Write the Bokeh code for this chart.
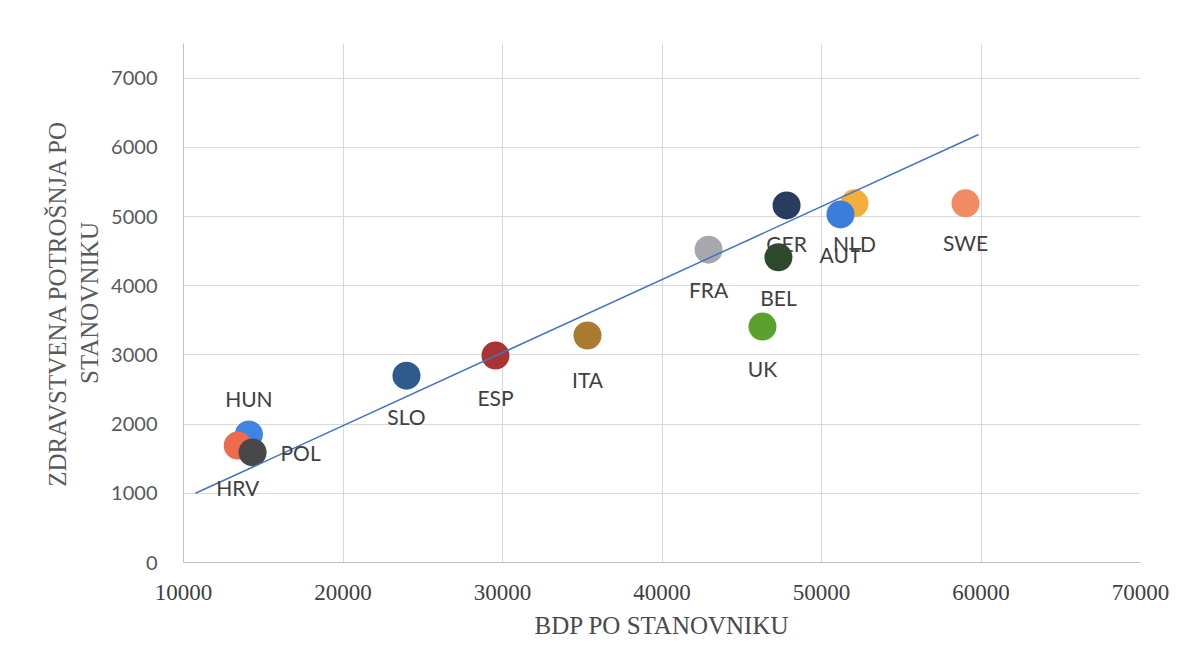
from bokeh.plotting import figure
from bokeh.models import ColumnDataSource, SingleIntervalTicker, Range1d
from bokeh.embed import file_html
from bokeh.resources import INLINE
from bokeh.core.properties import value

# ---- data ----
countries = ["HUN", "HRV", "POL", "SLO", "ESP", "ITA", "FRA", "GER", "NLD", "AUT", "BEL", "UK", "SWE"]
gdp_pc = [14100, 13400, 14330, 23980, 29560, 35330, 42920, 47810, 52070, 51190, 47300, 46300, 59030]
health_pc = [1850, 1690, 1590, 2700, 2990, 3280, 4520, 5160, 5190, 5030, 4410, 3410, 5190]
trend_x = [10750, 59850]
trend_y = [1000, 6185]

# ---- styles ----
colors = ["#3f84e2", "#ee6a4c", "#484848", "#2d5b8c", "#a83434", "#a97b30", "#a6a8ad",
          "#283d5e", "#f2b03a", "#3b7ddd", "#2c4a2a", "#5aa12e", "#f28a65"]
label_dx = [0, 0, 48, 0, 0, 0, 0, 0, 0, 0, 0, 0, 0]
label_dy = [-36, 42, 0, 41, 42, 44, 40, 38, 40, 40, 40, 42, 39]

src = ColumnDataSource(dict(x=gdp_pc, y=health_pc, name=countries, color=colors,
                            dx=label_dx, dy=label_dy))

p = figure(width=1178, height=655, output_backend="svg", toolbar_location=None,
           x_range=Range1d(10000, 70000), y_range=Range1d(0, 7500),
           min_border_left=183, min_border_right=38, min_border_top=43, min_border_bottom=93)
p.outline_line_color = None
p.background_fill_color = "white"
p.border_fill_color = "white"

p.xaxis.ticker = SingleIntervalTicker(interval=10000)
p.yaxis.ticker = SingleIntervalTicker(interval=1000)
p.xgrid.grid_line_color = "#d9d9d9"
p.ygrid.grid_line_color = "#d9d9d9"

for ax in (p.xaxis, p.yaxis):
    ax.axis_line_color = "#bfbfbf"
    ax.major_tick_line_color = None
    ax.minor_tick_line_color = None
    ax.major_tick_out = 0
    ax.major_tick_in = 0

p.xaxis.major_label_text_font = "Liberation Serif"
p.xaxis.major_label_text_font_size = "23px"
p.xaxis.major_label_text_color = "#404040"
p.xaxis.major_label_standoff = 18
p.xaxis.axis_label = "BDP PO STANOVNIKU"
p.xaxis.axis_label_text_font = "Liberation Serif"
p.xaxis.axis_label_text_font_size = "25px"
p.xaxis.axis_label_text_font_style = "normal"
p.xaxis.axis_label_text_color = "#4a4a4a"
p.xaxis.axis_label_standoff = 9

p.yaxis.major_label_text_font = "Lato"
p.yaxis.major_label_text_font_size = "20px"
p.yaxis.major_label_text_color = "#595959"
p.yaxis.major_label_standoff = 22
p.yaxis.axis_label = "ZDRAVSTVENA POTROŠNJA PO\nSTANOVNIKU"
p.yaxis.axis_label_text_font = "Liberation Serif"
p.yaxis.axis_label_text_font_size = "25px"
p.yaxis.axis_label_text_font_style = "normal"
p.yaxis.axis_label_text_color = "#595959"
p.yaxis.axis_label_standoff = 5

p.scatter("x", "y", size=28, fill_color="color", line_color=None, source=src)
p.line(trend_x, trend_y, line_color="#4472c4", line_width=1.5)
p.text("x", "y", text="name", x_offset="dx", y_offset="dy", source=src,
       text_align="center", text_baseline="middle", text_font=value("Lato"),
       text_font_size="21px", text_color="#404040")

open("out.html", "w").write(file_html(p, INLINE))
